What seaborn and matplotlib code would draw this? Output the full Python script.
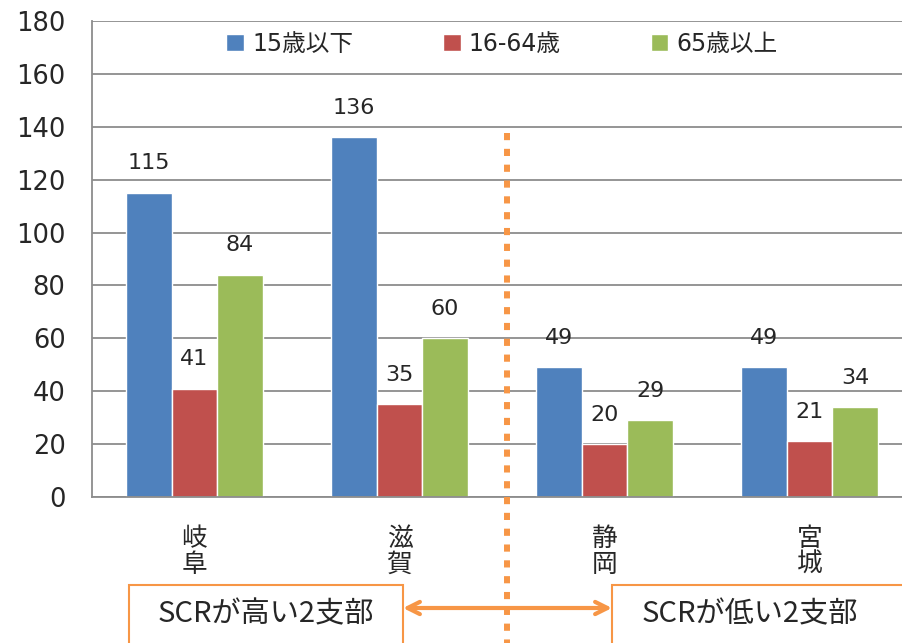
import matplotlib
matplotlib.use("Agg")
import matplotlib.pyplot as plt
import seaborn as sns
import pandas as pd
from matplotlib.patches import Rectangle, FancyArrowPatch
from matplotlib.lines import Line2D

# data
branches = ["岐\n阜", "滋\n賀", "静\n岡", "宮\n城"]
age_groups = ["15歳以下", "16-64歳", "65歳以上"]
under15 = [115, 136, 49, 49]
age16_64 = [41, 35, 20, 21]
over65 = [84, 60, 29, 34]
group_labels = ["SCRが高い2支部", "SCRが低い2支部"]

colors = ["#4F81BD", "#C0504D", "#9BBB59"]
orange = "#F79646"
gray = "#8c8c8c"

df = pd.DataFrame({
    "支部": branches * 3,
    "年齢": [g for g in age_groups for _ in branches],
    "人数": under15 + age16_64 + over65,
})

sns.set_style("white")
plt.rcParams["font.family"] = ["DejaVu Sans", "Noto Sans CJK JP"]

W, H = 903, 643
fig = plt.figure(figsize=(W / 100, H / 100), dpi=100)
ax = fig.add_axes([92 / W, 1 - 497 / H, 820 / W, 476 / H])

sns.barplot(data=df, x="支部", y="人数", hue="年齢", palette=colors,
            saturation=1, width=0.667, ax=ax)

for c in ax.containers:
    ax.bar_label(c, padding=14, fontsize=16)

handles, labels = ax.get_legend_handles_labels()
ax.legend(handles, labels, loc="upper center", bbox_to_anchor=(0.5, 1.022),
          ncol=3, frameon=False, fontsize=17, handlelength=0.75,
          handleheight=0.75, handletextpad=0.35, columnspacing=3.8)

ax.set_ylim(0, 180)
ax.set_yticks(range(0, 181, 20))
ax.set_xlim(-0.5, 3.5)
ax.set_xticks([-0.5, 0.5, 1.5, 2.5, 3.5], minor=True)
ax.set_xlabel("")
ax.set_ylabel("")
ax.set_axisbelow(True)
ax.yaxis.grid(True, color=gray, lw=1.3)
for s in ["top", "right"]:
    ax.spines[s].set_visible(False)
for s in ["left", "bottom"]:
    ax.spines[s].set_color(gray)
    ax.spines[s].set_linewidth(1.3)

ax.tick_params(axis="y", length=7, width=1.3, color=gray, pad=12, labelsize=18.5)
ax.tick_params(axis="x", which="major", length=0, pad=21, labelsize=18.5)
ax.tick_params(axis="x", which="minor", length=7, width=1.3, color=gray, direction="out")
for t in ax.get_xticklabels():
    t.set_linespacing(1.0)


def fx(px):
    return px / W


def fy(py):
    return 1 - py / H


# dotted divider
fig.add_artist(Line2D([fx(507), fx(507)], [fy(133), fy(650)], color=orange, lw=4.3,
                      linestyle=(0, (1.2, 1.45)), dash_capstyle="butt"))

# boxes with group labels
for x0, x1, txt in [(129, 403, group_labels[0]), (612, 920, group_labels[1])]:
    fig.add_artist(Rectangle((fx(x0), fy(660)), (x1 - x0) / W, (660 - 585) / H,
                             transform=fig.transFigure, fill=False, ec=orange, lw=1.5))
fig.text(fx(266), fy(614), group_labels[0], ha="center", va="center", fontsize=21,
         family=["Noto Sans CJK JP"])
fig.text(fx(750), fy(614), group_labels[1], ha="center", va="center", fontsize=21,
         family=["Noto Sans CJK JP"])

fig.add_artist(FancyArrowPatch((fx(403), fy(608)), (fx(612), fy(608)),
                               transform=fig.transFigure, arrowstyle="<->",
                               mutation_scale=22, lw=3, color=orange,
                               shrinkA=0, shrinkB=0))

fig.savefig("out.png", dpi=100)
